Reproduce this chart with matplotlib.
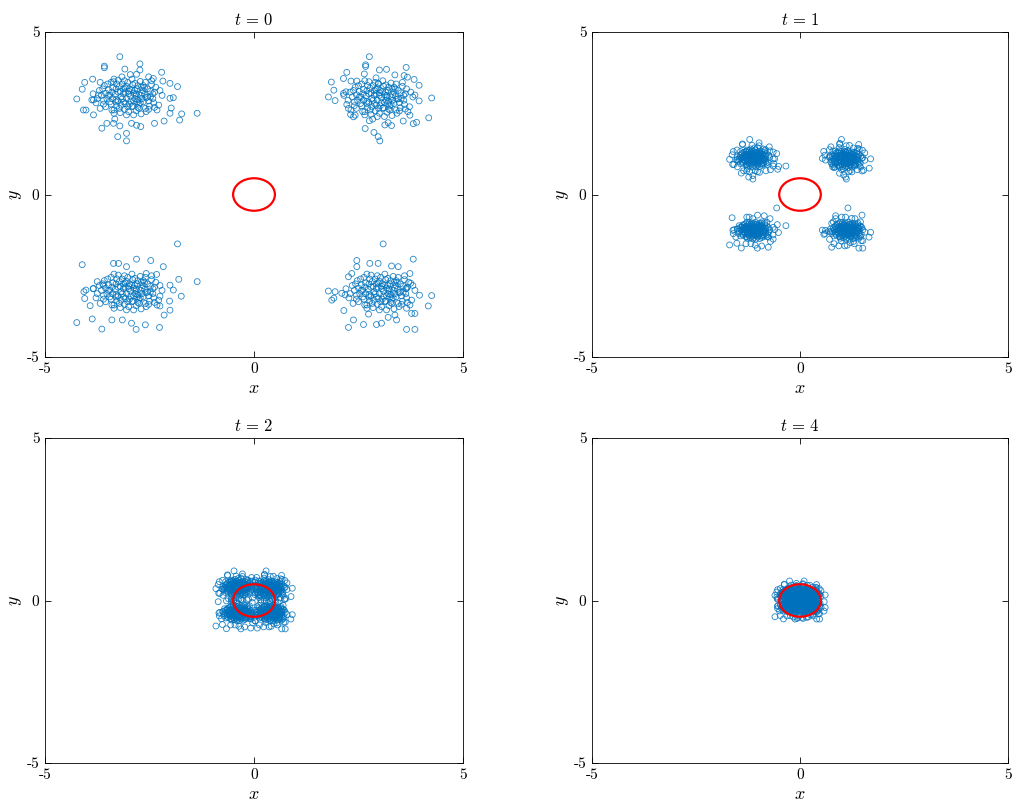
import matplotlib
matplotlib.use('Agg')
import matplotlib.pyplot as plt
from matplotlib.patches import Circle
import numpy as np

plt.rcParams['mathtext.fontset'] = 'cm'
plt.rcParams['axes.linewidth'] = 0.6

BLUE = '#0072BD'
RED = '#FF0000'

# panels: time label, how far the cluster centres sit (fraction of t=0),
# and how wide each cluster is (fraction of t=0)
times = [0, 1, 2, 4]
center_scale = [1.0, 0.37, 0.13, 0.06]
spread_scale = [1.0, 0.47, 0.42, 0.34]

# nominal cluster centres at t=0
cluster_cx = [-3.0, 3.0, -3.0, 3.0]
cluster_cy = [3.0, 3.0, -3.0, -3.0]

# dense core of each cluster at t=0
core_cx = [-3.0, 3.0, -3.0, 3.05]
core_cy = [3.0, 2.95, -3.0, -3.0]
core_dx = [0.05, -0.12, 0.22, -0.30, 0.35, -0.45, 0.10, -0.05, 0.48, -0.22,
           0.15, -0.38, 0.28, -0.60, 0.62, 0.00, -0.15, 0.40, -0.50, 0.20,
           -0.08, 0.55, -0.70, 0.72, -0.25, 0.30, -0.35, 0.08, 0.45, -0.55,
           0.12, -0.20, 0.25, -0.10, 0.38, -0.42, 0.18, -0.28, 0.58, -0.65,
           0.02, -0.32, 0.32, -0.18, 0.50, -0.48, 0.05, 0.65, -0.78, 0.80,
           -0.02, 0.22, -0.40, 0.42, -0.58, 0.15, -0.25, 0.35, -0.12, 0.28,
           -0.52, 0.52, -0.05, 0.10, -0.35, 0.68, -0.68, 0.40, -0.15, 0.00,
           0.25, -0.45, 0.60, -0.30, 0.08, -0.62, 0.45, -0.20, 0.32, -0.08,
           0.18, -0.38, 0.75, -0.85, 0.12, -0.22, 0.48, -0.42, 0.02, 0.38,
           -0.55, 0.20, -0.10, 0.55, -0.75, 0.30, -0.28, 0.62, -0.05, 0.15,
           -0.18, 0.08, -0.40, 0.28, -0.02, 0.42, -0.30, 0.18, -0.60, 0.52,
           0.00, -0.12, 0.35, -0.48, 0.12, -0.25, 0.22, -0.08, 0.58, -0.35]
core_dy = [0.02, 0.10, -0.08, -0.15, 0.20, 0.05, -0.28, 0.33, -0.12, -0.35,
           0.42, 0.28, 0.05, -0.10, 0.15, -0.45, -0.05, -0.35, 0.40, 0.25,
           -0.20, 0.38, 0.20, -0.25, 0.52, -0.52, -0.50, 0.55, 0.00, -0.30,
           0.12, 0.18, -0.22, -0.38, 0.30, -0.22, -0.42, 0.40, -0.05, 0.05,
           0.25, 0.08, 0.12, -0.25, -0.28, 0.22, -0.12, 0.30, -0.18, 0.05,
           0.45, 0.35, -0.40, -0.45, 0.35, -0.05, -0.12, -0.15, 0.25, 0.48,
           -0.05, 0.18, -0.55, 0.38, 0.55, -0.40, -0.35, 0.45, 0.40, 0.10,
           -0.35, -0.15, -0.18, 0.25, -0.30, 0.25, 0.25, -0.48, -0.05, 0.15,
           0.05, -0.05, 0.20, 0.10, -0.55, 0.32, -0.38, 0.45, -0.22, 0.08,
           0.12, -0.15, 0.50, 0.50, -0.05, 0.30, -0.28, -0.32, -0.05, 0.20,
           0.00, 0.22, 0.15, -0.18, -0.30, -0.02, -0.08, 0.10, -0.22, 0.00,
           0.18, -0.15, 0.35, 0.05, -0.12, 0.15, -0.32, 0.28, 0.10, -0.40]

# scattered outer points of each cluster at t=0
c1_x = [-3.21, -3.58, -3.58, -2.73, -2.21, -4.24, -4.11, -4.05, -3.86, -4.08,
        -4.02, -3.84, -1.36, -1.73, -1.78, -1.83, -1.93, -2.01, -1.98, -2.01,
        -2.15, -2.38, -2.71, -3.05, -3.05, -3.26, -3.64, -3.52, -3.36, -3.21,
        -2.93, -2.81, -3.33, -3.88, -3.84, -3.72, -3.68, -2.73, -3.09, -2.81,
        -2.41, -2.18, -2.01, -2.52, -2.96, -3.16, -3.36]
c1_y = [4.24, 3.95, 3.90, 4.02, 3.76, 2.94, 3.24, 3.45, 3.55, 2.60,
        2.60, 2.45, 2.50, 2.48, 2.29, 3.32, 2.98, 2.96, 2.66, 2.50,
        2.26, 2.19, 2.09, 1.88, 1.65, 1.78, 2.04, 2.19, 2.19, 2.11,
        2.19, 2.13, 2.32, 2.91, 2.91, 3.06, 3.45, 3.83, 3.86, 3.70,
        3.57, 3.49, 3.42, 3.62, 3.69, 3.62, 3.47]
c2_x = [2.76, 2.67, 2.67, 3.64, 1.85, 1.78, 1.94, 1.91, 2.22, 2.14,
        2.64, 3.00, 3.17, 3.37, 3.59, 3.67, 3.83, 3.95, 3.85, 4.25,
        3.95, 4.18, 3.89, 3.81, 3.73, 3.57, 3.29, 3.21, 3.13, 2.84,
        2.66, 2.87, 2.97, 3.01, 2.76, 2.42, 2.31, 2.38, 2.26, 2.14,
        2.20, 2.32, 2.46, 2.92, 2.97]
c2_y = [4.24, 3.99, 3.94, 3.91, 3.46, 3.00, 2.89, 3.21, 3.76, 3.57,
        3.71, 3.83, 3.85, 3.68, 3.66, 3.61, 3.54, 3.36, 3.06, 2.97,
        2.88, 2.36, 2.22, 2.18, 2.44, 2.26, 2.12, 2.21, 2.14, 2.32,
        2.03, 1.91, 1.78, 1.65, 2.27, 2.44, 2.46, 2.39, 2.65, 3.11,
        3.16, 3.49, 3.49, 3.59, 3.42]
c3_x = [-1.83, -4.11, -2.81, -2.47, -2.17, -1.36, -1.74, -1.80, -2.01, -1.93,
        -2.02, -2.01, -2.25, -2.15, -2.26, -2.60, -2.82, -2.93, -3.15, -3.40,
        -3.64, -3.87, -4.24, -3.92, -4.07, -4.02, -4.05, -3.84, -3.75, -3.36,
        -3.24, -3.05, -2.58, -2.33, -3.60, -2.25]
c3_y = [-1.52, -2.16, -1.99, -2.03, -2.22, -2.68, -3.13, -2.61, -2.79, -2.94,
        -3.28, -3.56, -3.43, -3.71, -4.09, -4.01, -4.15, -3.96, -3.86, -3.86,
        -4.14, -3.83, -3.94, -3.42, -2.99, -2.94, -3.20, -2.89, -2.68, -2.12,
        -2.12, -2.22, -2.43, -2.46, -2.79, -3.13]
c4_x = [3.09, 3.81, 2.46, 2.46, 1.78, 1.94, 1.86, 1.91, 2.10, 2.18,
        2.15, 2.26, 2.34, 2.26, 2.38, 2.62, 2.93, 3.05, 3.21, 3.41,
        3.37, 3.65, 3.85, 3.77, 3.85, 4.17, 4.25, 3.96, 3.73, 3.75,
        3.65, 3.45, 3.29, 2.97, 2.77, 3.65, 2.74]
c4_y = [-1.52, -1.99, -2.03, -2.22, -2.97, -2.99, -3.25, -3.19, -3.04, -3.09,
        -3.57, -2.53, -2.43, -4.09, -3.86, -4.00, -4.00, -3.96, -3.78, -3.86,
        -3.71, -4.15, -4.15, -3.66, -3.66, -3.43, -3.11, -3.10, -2.43, -2.73,
        -2.89, -2.22, -2.20, -2.12, -2.12, -3.50, -3.68]

circle_radius = 0.5
axis_limits = [-5, 5]
tick_values = [-5, 0, 5]
tick_labels = ['-5', '0', '5']

outer_x = [c1_x, c2_x, c3_x, c4_x]
outer_y = [c1_y, c2_y, c3_y, c4_y]

# collect t=0 positions as (cluster centre, offset from centre)
cen_x, cen_y, off_x, off_y = [], [], [], []
for k in range(4):
    px = np.concatenate([np.array(outer_x[k]), core_cx[k] + np.array(core_dx)])
    py = np.concatenate([np.array(outer_y[k]), core_cy[k] + np.array(core_dy)])
    cen_x.append(np.full(len(px), cluster_cx[k]))
    cen_y.append(np.full(len(py), cluster_cy[k]))
    off_x.append(px - cluster_cx[k])
    off_y.append(py - cluster_cy[k])
cen_x = np.concatenate(cen_x)
cen_y = np.concatenate(cen_y)
off_x = np.concatenate(off_x)
off_y = np.concatenate(off_y)

fig = plt.figure(figsize=(10.15, 8.09), dpi=100)
boxes = [
    [45 / 1015, 1 - 357 / 809, 418 / 1015, 325 / 809],
    [592 / 1015, 1 - 357 / 809, 416 / 1015, 325 / 809],
    [45 / 1015, 1 - 763 / 809, 418 / 1015, 325 / 809],
    [592 / 1015, 1 - 763 / 809, 416 / 1015, 325 / 809],
]

for i, t in enumerate(times):
    ax = fig.add_axes(boxes[i])
    xs = center_scale[i] * cen_x + spread_scale[i] * off_x
    ys = center_scale[i] * cen_y + spread_scale[i] * off_y
    ax.scatter(xs, ys, s=18, facecolors='none', edgecolors=BLUE,
               linewidths=0.6, alpha=0.85, zorder=2)
    ax.add_patch(Circle((0, 0), circle_radius, fill=False, edgecolor=RED,
                        linewidth=1.6, zorder=3))
    ax.set_xlim(axis_limits)
    ax.set_ylim(axis_limits)
    ax.set_xticks(tick_values)
    ax.set_yticks(tick_values)
    ax.set_xticklabels(tick_labels, fontfamily='cmr10', fontsize=11)
    ax.set_yticklabels(tick_labels, fontfamily='cmr10', fontsize=11)
    ax.tick_params(direction='in', top=True, right=True, length=4,
                   width=0.6, pad=4)
    ax.set_title(r'$t\, =\, %d$' % t, fontsize=12, pad=5)
    ax.set_xlabel(r'$x$', fontsize=13, labelpad=2)
    ax.set_ylabel(r'$y$', fontsize=13, labelpad=2)

fig.savefig('out.png', dpi=100)
